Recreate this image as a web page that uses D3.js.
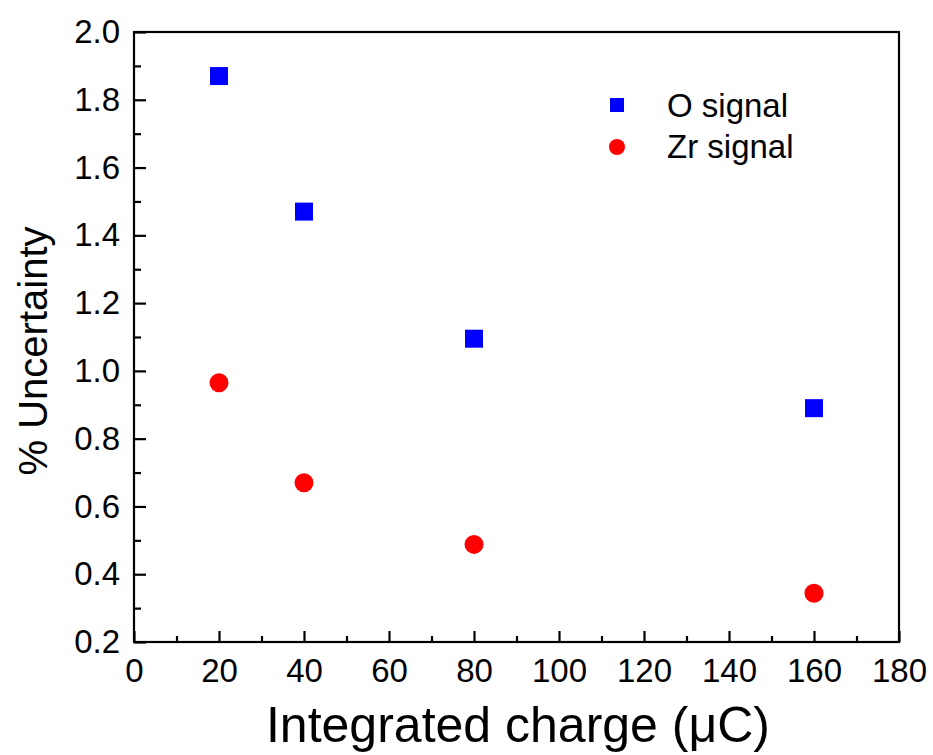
<!DOCTYPE html>
<html><head><meta charset="utf-8">
<script src="https://cdn.jsdelivr.net/npm/d3@7"></script>
<style>body{margin:0;background:#fff}text{font-family:"Liberation Sans",Arial,sans-serif;fill:#000}</style>
</head><body>
<svg id="c" width="933" height="755"></svg>
<script>
const charge = [20, 40, 80, 160];
const oSignal = [1.87, 1.47, 1.095, 0.89];
const zrSignal = [0.965, 0.67, 0.488, 0.344];
const xTicks = [0, 20, 40, 60, 80, 100, 120, 140, 160, 180];
const yTicks = [0.2, 0.4, 0.6, 0.8, 1.0, 1.2, 1.4, 1.6, 1.8, 2.0];
const seriesNames = ["O signal", "Zr signal"];

const svg = d3.select("#c");
const L = 134, R = 899, T = 32, B = 642;
const x = d3.scaleLinear().domain([0, 180]).range([L, R]);
const y = d3.scaleLinear().domain([0.2, 2.0]).range([B, T]);
const FF = "Liberation Sans, Arial, sans-serif";

// frame
svg.append("rect").attr("x", L).attr("y", T).attr("width", R - L).attr("height", B - T)
  .attr("fill", "none").attr("stroke", "#000").attr("stroke-width", 2.2);

// x axis
const xa = svg.append("g").attr("transform", `translate(0,${B})`)
  .call(d3.axisBottom(x).tickValues(xTicks).tickFormat(d3.format("d")).tickSize(-11).tickPadding(17));
xa.select(".domain").remove();
xa.selectAll("line").attr("stroke-width", 2.2);
xa.selectAll("text").attr("font-size", 33).style("font-family", FF);
const xMinor = svg.append("g").attr("transform", `translate(0,${B})`)
  .call(d3.axisBottom(x).tickValues(d3.range(10, 180, 20)).tickFormat("").tickSize(-6));
xMinor.select(".domain").remove();
xMinor.selectAll("line").attr("stroke-width", 2.2);

// y axis
const ya = svg.append("g").attr("transform", `translate(${L},0)`)
  .call(d3.axisLeft(y).tickValues(yTicks).tickFormat(d3.format(".1f")).tickSize(-12).tickPadding(14));
ya.select(".domain").remove();
ya.selectAll("line").attr("stroke-width", 2.2);
ya.selectAll("text").attr("font-size", 33).style("font-family", FF);
const yMinor = svg.append("g").attr("transform", `translate(${L},0)`)
  .call(d3.axisLeft(y).tickValues(d3.range(0.3, 2.0, 0.2)).tickFormat("").tickSize(-7));
yMinor.select(".domain").remove();
yMinor.selectAll("line").attr("stroke-width", 2.2);

// titles
svg.append("text").attr("x", 518).attr("y", 742).attr("text-anchor", "middle")
  .attr("font-size", 50).text("Integrated charge (\u03BCC)");
svg.append("text").attr("transform", "translate(47,351) rotate(-90)").attr("text-anchor", "middle")
  .attr("font-size", 40).text("% Uncertainty");

// data
const sq = 18;
svg.append("g").selectAll("rect").data(charge).join("rect")
  .attr("x", (d) => x(d) - sq / 2).attr("y", (d, i) => y(oSignal[i]) - sq / 2)
  .attr("width", sq).attr("height", sq).attr("fill", "#0000ff");
svg.append("g").selectAll("circle").data(charge).join("circle")
  .attr("cx", (d) => x(d)).attr("cy", (d, i) => y(zrSignal[i])).attr("r", 9.5).attr("fill", "#ff0000");

// legend
const lg = svg.append("g");
lg.append("rect").attr("x", 617 - 7).attr("y", 105 - 7).attr("width", 14).attr("height", 14).attr("fill", "#0000ff");
lg.append("circle").attr("cx", 617).attr("cy", 147).attr("r", 8).attr("fill", "#ff0000");
lg.append("text").attr("x", 667).attr("y", 117).attr("font-size", 33).text(seriesNames[0]);
lg.append("text").attr("x", 667).attr("y", 158).attr("font-size", 33).text(seriesNames[1]);
</script>
</body></html>
